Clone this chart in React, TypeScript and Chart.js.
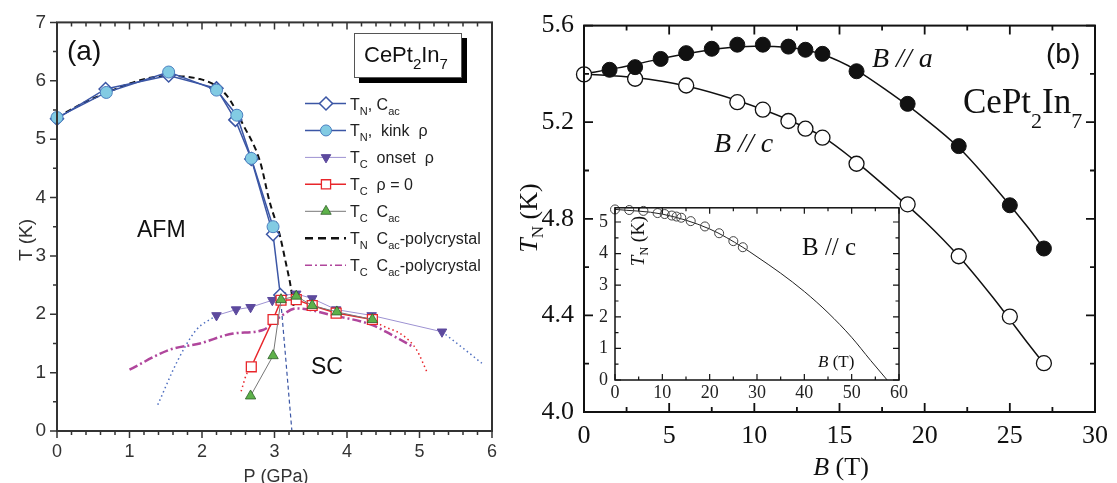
import React, { useEffect, useRef } from 'react';
import { Chart, registerables } from 'chart.js';
Chart.register(...registerables);

const SANS = '"Liberation Sans", Arial, sans-serif';
const SERIF = '"Liberation Serif", "Times New Roman", serif';

// ---------- Panel (a) data: P (GPa) vs T (K) ----------
const tnCacP = [0, 0.67, 1.54, 2.2, 2.46, 2.68, 2.98, 3.08];
const tnCacT = [5.35, 5.86, 6.09, 5.87, 5.33, 4.66, 3.37, 2.33];
const tnKinkP = [0, 0.68, 1.54, 2.2, 2.48, 2.68, 2.98];
const tnKinkT = [5.37, 5.8, 6.15, 5.84, 5.41, 4.67, 3.5];
const tnExtP = [3.08, 3.24];
const tnExtT = [2.33, 0];
const tcOnsetP = [2.2, 2.47, 2.67, 2.97, 3.09, 3.3, 3.52, 3.85, 4.34, 5.31];
const tcOnsetT = [1.98, 2.08, 2.12, 2.24, 2.32, 2.35, 2.27, 2.08, 1.98, 1.7];
const tcOnsetLowP = [1.39, 1.67, 1.92, 2.2];
const tcOnsetLowT = [0.45, 1.22, 1.73, 1.98];
const tcOnsetHighP = [5.31, 5.6, 5.86];
const tcOnsetHighT = [1.7, 1.42, 1.16];
const tcZeroP = [2.68, 2.98, 3.09, 3.3, 3.52, 3.85, 4.35];
const tcZeroT = [1.1, 1.91, 2.24, 2.25, 2.15, 2.02, 1.91];
const tcZeroLowP = [2.54, 2.61, 2.68];
const tcZeroLowT = [0.68, 0.96, 1.1];
const tcZeroHighP = [4.35, 4.48, 4.77, 4.96, 5.1];
const tcZeroHighT = [1.91, 1.81, 1.64, 1.39, 1.02];
const tcCacP = [2.67, 2.98, 3.09, 3.3, 3.52, 3.86, 4.35];
const tcCacT = [0.6, 1.29, 2.25, 2.31, 2.15, 2.04, 1.91];
const polyTnP = [0, 0.54, 1.5, 1.97, 2.34, 2.57, 2.8, 2.93, 3.07, 3.16, 3.22, 3.27];
const polyTnT = [5.38, 5.72, 6.08, 6.03, 5.75, 5.24, 4.62, 3.94, 3.37, 2.86, 2.5, 2.08];
const polyTcP = [1.0, 1.55, 1.97, 2.43, 2.84, 3.07, 3.3, 3.81, 4.36, 4.61, 4.9];
const polyTcT = [1.05, 1.39, 1.5, 1.67, 1.73, 1.95, 2.1, 1.98, 1.81, 1.65, 1.45];

// ---------- Panel (b) data: B (T) vs T_N (K) ----------
const bA = [1.5, 3, 4.5, 6, 7.5, 9, 10.5, 12, 13, 14, 16, 19, 22, 25, 27];
const tA = [5.417, 5.428, 5.462, 5.486, 5.504, 5.521, 5.521, 5.513, 5.5, 5.483, 5.411, 5.276, 5.101, 4.856, 4.677];
const bC = [0, 3, 6, 9, 10.5, 12, 13, 14, 16, 19, 22, 25, 27];
const tC = [5.398, 5.38, 5.352, 5.283, 5.252, 5.205, 5.173, 5.136, 5.028, 4.86, 4.645, 4.395, 4.202];
const fitAB = [0, 2, 4, 6, 8, 10, 12, 14, 16, 18, 20, 22, 24, 26, 27];
const fitAT = [5.4, 5.425, 5.455, 5.483, 5.505, 5.515, 5.51, 5.48, 5.415, 5.32, 5.215, 5.095, 4.94, 4.77, 4.677];
const fitCB = [0, 3, 6, 9, 12, 14, 16, 18, 20, 22, 24, 26, 27];
const fitCT = [5.4, 5.385, 5.35, 5.29, 5.21, 5.14, 5.035, 4.915, 4.79, 4.645, 4.475, 4.29, 4.2];
// inset fit extension
const insetFitB = [0, 10, 20, 27, 30, 35, 40, 45, 50, 54, 57.5];
const insetFitT = [5.4, 5.25, 4.78, 4.2, 3.9, 3.38, 2.8, 2.13, 1.35, 0.62, 0];

// tick labels / ranges
const aXTicks = [0, 1, 2, 3, 4, 5, 6];
const aYTicks = [0, 1, 2, 3, 4, 5, 6, 7];
const bXTicks = [0, 5, 10, 15, 20, 25, 30];
const bYTicks = [4.0, 4.4, 4.8, 5.2, 5.6];
const iXTicks = [0, 10, 20, 30, 40, 50, 60];
const iYTicks = [0, 1, 2, 3, 4, 5];

const xy = (xs: number[], ys: number[]) => xs.map((x, i) => ({ x, y: ys[i] }));
const range = (a: number, b: number, s: number) => {
  const r: number[] = [];
  for (let v = a; v <= b + 1e-9; v += s) r.push(Math.round(v * 1000) / 1000);
  return r;
};

type Seg = { t: string; font: string; dy?: number };
function segWidth(ctx: CanvasRenderingContext2D, segs: Seg[]) {
  let w = 0;
  for (const s of segs) { ctx.font = s.font; w += ctx.measureText(s.t).width; }
  return w;
}
function drawSegs(ctx: CanvasRenderingContext2D, segs: Seg[], x: number, y: number, align = 'left', color = '#222') {
  let cx = align === 'center' ? x - segWidth(ctx, segs) / 2 : x;
  ctx.fillStyle = color;
  ctx.textBaseline = 'alphabetic';
  ctx.textAlign = 'left';
  for (const s of segs) {
    ctx.font = s.font;
    ctx.fillText(s.t, cx, y + (s.dy || 0));
    cx += ctx.measureText(s.t).width;
  }
}
function drawRotSegs(ctx: CanvasRenderingContext2D, segs: Seg[], baseX: number, centerY: number, color = '#222') {
  ctx.save();
  ctx.translate(baseX, centerY);
  ctx.rotate(-Math.PI / 2);
  drawSegs(ctx, segs, 0, 0, 'center', color);
  ctx.restore();
}

type TickSide = { side: 'top' | 'bottom' | 'left' | 'right'; major: number[]; minor: number[]; dir: 'in' | 'out'; majLen: number; minLen: number };
function drawTicks(chart: any, sides: TickSide[], color: string, width: number) {
  const { ctx, chartArea: a, scales } = chart;
  ctx.save();
  ctx.strokeStyle = color;
  ctx.lineWidth = width;
  ctx.beginPath();
  for (const s of sides) {
    const horiz = s.side === 'top' || s.side === 'bottom';
    const sc = horiz ? scales.x : scales.y;
    const list: [number, number][] = [...s.minor.map((v) => [v, s.minLen] as [number, number]), ...s.major.map((v) => [v, s.majLen] as [number, number])];
    for (const [v, len] of list) {
      const p = sc.getPixelForValue(v);
      if (s.side === 'bottom') { const g = s.dir === 'in' ? -1 : 1; ctx.moveTo(p, a.bottom); ctx.lineTo(p, a.bottom + g * len); }
      if (s.side === 'top') { const g = s.dir === 'in' ? 1 : -1; ctx.moveTo(p, a.top); ctx.lineTo(p, a.top + g * len); }
      if (s.side === 'left') { const g = s.dir === 'in' ? 1 : -1; ctx.moveTo(a.left, p); ctx.lineTo(a.left + g * len, p); }
      if (s.side === 'right') { const g = s.dir === 'in' ? -1 : 1; ctx.moveTo(a.right, p); ctx.lineTo(a.right + g * len, p); }
    }
  }
  ctx.stroke();
  ctx.restore();
}

function drawMarker(ctx: CanvasRenderingContext2D, style: string, x: number, y: number, r: number, fill: string, stroke: string, lw: number) {
  ctx.save();
  ctx.beginPath();
  if (style === 'diamond') { ctx.moveTo(x, y - r); ctx.lineTo(x + r, y); ctx.lineTo(x, y + r); ctx.lineTo(x - r, y); ctx.closePath(); }
  else if (style === 'circle') { ctx.arc(x, y, r, 0, Math.PI * 2); }
  else if (style === 'square') { ctx.rect(x - r * 0.707, y - r * 0.707, r * 1.414, r * 1.414); }
  else if (style === 'tri') { ctx.moveTo(x, y - r); ctx.lineTo(x + r * 0.866, y + r / 2); ctx.lineTo(x - r * 0.866, y + r / 2); ctx.closePath(); }
  else if (style === 'triDown') { ctx.moveTo(x, y + r); ctx.lineTo(x + r * 0.866, y - r / 2); ctx.lineTo(x - r * 0.866, y - r / 2); ctx.closePath(); }
  ctx.fillStyle = fill; ctx.fill();
  ctx.strokeStyle = stroke; ctx.lineWidth = lw; ctx.stroke();
  ctx.restore();
}

const BLUE = '#3b56a5';
const LIGHTBLUE = '#82cbe3';
const PURPLE = '#5d4a9e';
const LAVENDER = '#9d92d2';
const RED = '#e8262b';
const GREEN = '#5db14a';
const GREEN_EDGE = '#2f5f2a';
const GRAY = '#777777';
const MAGENTA = '#b0469c';
const DOTBLUE = '#4f6fc0';

const pluginA = {
  id: 'decorA',
  afterDatasetsDraw(chart: any) {
    const ctx: CanvasRenderingContext2D = chart.ctx;
    const a = chart.chartArea;
    ctx.save();
    ctx.strokeStyle = '#333';
    ctx.lineWidth = 2;
    ctx.strokeRect(a.left, a.top, a.right - a.left, a.bottom - a.top);
    ctx.restore();
    drawTicks(chart, [
      { side: 'bottom', major: aXTicks, minor: range(0, 6, 0.2), dir: 'out', majLen: 7, minLen: 4 },
      { side: 'top', major: aXTicks, minor: range(0, 6, 0.2), dir: 'in', majLen: 7, minLen: 4 },
      { side: 'left', major: aYTicks, minor: range(0, 7, 0.5), dir: 'out', majLen: 7, minLen: 4 },
    ], '#333', 1.5);

    // panel label
    drawSegs(ctx, [{ t: '(a)', font: `28px ${SANS}` }], 67, 60, 'left', '#111');
    // compound box with shadow
    ctx.save();
    ctx.fillStyle = '#000';
    ctx.fillRect(359, 38, 108, 45);
    ctx.fillStyle = '#fff';
    ctx.fillRect(354, 33, 108, 45);
    ctx.strokeStyle = '#555';
    ctx.lineWidth = 1;
    ctx.strokeRect(354.5, 33.5, 107, 44);
    ctx.restore();
    drawSegs(ctx, [
      { t: 'CePt', font: `22px ${SANS}` },
      { t: '2', font: `15px ${SANS}`, dy: 7 },
      { t: 'In', font: `22px ${SANS}` },
      { t: '7', font: `15px ${SANS}`, dy: 7 },
    ], 364, 62, 'left', '#111');
    drawSegs(ctx, [{ t: 'AFM', font: `23px ${SANS}` }], 137, 237, 'left', '#111');
    drawSegs(ctx, [{ t: 'SC', font: `23px ${SANS}` }], 311, 374, 'left', '#111');
    // axis titles
    drawRotSegs(ctx, [{ t: 'T (K)', font: `19px ${SANS}` }], 32, 240, '#333');
    drawSegs(ctx, [{ t: 'P (GPa)', font: `18px ${SANS}` }], 276, 482, 'center', '#333');

    // legend
    const F = `16px ${SANS}`;
    const S = `11px ${SANS}`;
    function line(y: number, color: string, w: number, dash: number[]) {
      ctx.save();
      ctx.strokeStyle = color; ctx.lineWidth = w; ctx.setLineDash(dash);
      ctx.beginPath(); ctx.moveTo(305, y); ctx.lineTo(346, y); ctx.stroke();
      ctx.restore();
    }
    const rows: { segs: Seg[]; draw: (y: number) => void }[] = [
      {
        segs: [{ t: 'T', font: F }, { t: 'N', font: S, dy: 5 }, { t: ', C', font: F }, { t: 'ac', font: S, dy: 5 }],
        draw: (y) => { line(y, BLUE, 1.5, []); drawMarker(ctx, 'diamond', 326, y, 6.5, '#fff', BLUE, 1.5); },
      },
      {
        segs: [{ t: 'T', font: F }, { t: 'N', font: S, dy: 5 }, { t: ',  kink  ρ', font: F }],
        draw: (y) => { line(y, BLUE, 1.5, []); drawMarker(ctx, 'circle', 326, y, 5.5, LIGHTBLUE, '#4a7fc0', 1); },
      },
      {
        segs: [{ t: 'T', font: F }, { t: 'C', font: S, dy: 5 }, { t: '  onset  ρ', font: F }],
        draw: (y) => { line(y, LAVENDER, 1, []); drawMarker(ctx, 'triDown', 326, y, 5.5, PURPLE, PURPLE, 1); },
      },
      {
        segs: [{ t: 'T', font: F }, { t: 'C', font: S, dy: 5 }, { t: '  ρ = 0', font: F }],
        draw: (y) => { line(y, RED, 1.5, []); drawMarker(ctx, 'square', 326, y, 6.5, '#fff', RED, 1.3); },
      },
      {
        segs: [{ t: 'T', font: F }, { t: 'C', font: S, dy: 5 }, { t: '  C', font: F }, { t: 'ac', font: S, dy: 5 }],
        draw: (y) => { line(y, GRAY, 1, []); drawMarker(ctx, 'tri', 326, y, 6, GREEN, GREEN_EDGE, 0.8); },
      },
      {
        segs: [{ t: 'T', font: F }, { t: 'N', font: S, dy: 5 }, { t: '  C', font: F }, { t: 'ac', font: S, dy: 5 }, { t: '-polycrystal', font: F }],
        draw: (y) => { line(y, '#111', 2.5, [8, 5]); },
      },
      {
        segs: [{ t: 'T', font: F }, { t: 'C', font: S, dy: 5 }, { t: '  C', font: F }, { t: 'ac', font: S, dy: 5 }, { t: '-polycrystal', font: F }],
        draw: (y) => { line(y, MAGENTA, 1.5, [7, 3, 2, 3]); },
      },
    ];
    rows.forEach((r, i) => {
      const y = 103.5 + i * 26.95;
      r.draw(y);
      drawSegs(ctx, r.segs, 350, y + 6, 'left', '#222');
    });
  },
};

const pluginB = {
  id: 'decorB',
  afterDatasetsDraw(chart: any) {
    const ctx: CanvasRenderingContext2D = chart.ctx;
    const a = chart.chartArea;
    ctx.save();
    ctx.strokeStyle = '#111';
    ctx.lineWidth = 2;
    ctx.strokeRect(a.left, a.top, a.right - a.left, a.bottom - a.top);
    ctx.restore();
    const xmin = range(0, 30, 2.5);
    const ymin = range(4.0, 5.6, 0.2);
    drawTicks(chart, [
      { side: 'bottom', major: bXTicks, minor: xmin, dir: 'in', majLen: 9, minLen: 5 },
      { side: 'top', major: bXTicks, minor: xmin, dir: 'in', majLen: 9, minLen: 5 },
      { side: 'left', major: bYTicks, minor: ymin, dir: 'in', majLen: 9, minLen: 5 },
      { side: 'right', major: bYTicks, minor: ymin, dir: 'in', majLen: 9, minLen: 5 },
    ], '#111', 1.8);
    drawSegs(ctx, [{ t: '(b)', font: `28px ${SANS}` }], 526, 63, 'left', '#111');
    drawSegs(ctx, [{ t: 'B // a', font: `italic 28px ${SERIF}` }], 352, 67, 'left', '#111');
    drawSegs(ctx, [{ t: 'B // c', font: `italic 28px ${SERIF}` }], 194, 152, 'left', '#111');
    drawSegs(ctx, [
      { t: 'CePt', font: `35px ${SERIF}` },
      { t: '2', font: `22px ${SERIF}`, dy: 15 },
      { t: 'In', font: `35px ${SERIF}` },
      { t: '7', font: `22px ${SERIF}`, dy: 15 },
    ], 443, 113, 'left', '#111');
    drawSegs(ctx, [{ t: 'B', font: `italic 26px ${SERIF}` }, { t: ' (T)', font: `26px ${SERIF}` }], 321, 475, 'center', '#111');
    drawRotSegs(ctx, [
      { t: 'T', font: `italic 26px ${SERIF}` },
      { t: 'N', font: `17px ${SERIF}`, dy: 6 },
      { t: ' (K)', font: `26px ${SERIF}` },
    ], 17, 218, '#111');
  },
};

const pluginI = {
  id: 'decorI',
  beforeDatasetsDraw(chart: any) {
    const ctx: CanvasRenderingContext2D = chart.ctx;
    const a = chart.chartArea;
    ctx.save();
    ctx.fillStyle = '#fff';
    ctx.fillRect(a.left, a.top, a.right - a.left, a.bottom - a.top);
    ctx.restore();
  },
  afterDatasetsDraw(chart: any) {
    const ctx: CanvasRenderingContext2D = chart.ctx;
    const a = chart.chartArea;
    ctx.save();
    ctx.strokeStyle = '#111';
    ctx.lineWidth = 1.5;
    ctx.strokeRect(a.left, a.top, a.right - a.left, a.bottom - a.top);
    ctx.restore();
    const xmin = range(0, 60, 5);
    const ymin = range(0, 5, 0.5);
    drawTicks(chart, [
      { side: 'bottom', major: iXTicks, minor: xmin, dir: 'in', majLen: 6, minLen: 3.5 },
      { side: 'top', major: iXTicks, minor: xmin, dir: 'in', majLen: 6, minLen: 3.5 },
      { side: 'left', major: iYTicks, minor: ymin, dir: 'in', majLen: 6, minLen: 3.5 },
      { side: 'right', major: iYTicks, minor: ymin, dir: 'in', majLen: 6, minLen: 3.5 },
    ], '#111', 1.2);
    drawSegs(ctx, [{ t: 'B // c', font: `25px ${SERIF}` }], 222, 65, 'left', '#111');
    drawSegs(ctx, [{ t: 'B', font: `italic 17px ${SERIF}` }, { t: ' (T)', font: `17px ${SERIF}` }], 238, 177, 'left', '#111');
    drawRotSegs(ctx, [
      { t: 'T', font: `italic 19px ${SERIF}` },
      { t: 'N', font: `12px ${SERIF}`, dy: 4 },
      { t: ' (K)', font: `19px ${SERIF}` },
    ], 64, 51, '#111');
  },
};

function lineDs(data: any[], color: string, width: number, dash: number[], order: number, extra: any = {}) {
  return { data, borderColor: color, borderWidth: width, borderDash: dash, pointRadius: 0, fill: false, clip: false, order, ...extra };
}

function cfgA(): any {
  const datasets = [
    { data: xy(tcCacP, tcCacT), borderColor: GRAY, borderWidth: 1, pointStyle: 'triangle', pointRadius: 6, pointBackgroundColor: GREEN, pointBorderColor: GREEN_EDGE, pointBorderWidth: 0.8, fill: false, clip: false, order: 1 },
    { data: xy(tcZeroP, tcZeroT), borderColor: RED, borderWidth: 1.5, pointStyle: 'rect', pointRadius: 7, pointBackgroundColor: '#fff', pointBorderColor: RED, pointBorderWidth: 1.3, fill: false, clip: false, order: 2 },
    { data: xy(tnKinkP, tnKinkT), borderColor: BLUE, borderWidth: 1.5, pointStyle: 'circle', pointRadius: 6, pointBackgroundColor: LIGHTBLUE, pointBorderColor: '#4a7fc0', pointBorderWidth: 1, fill: false, clip: false, order: 3 },
    { data: xy(tnCacP, tnCacT), borderColor: BLUE, borderWidth: 1.5, pointStyle: 'rectRot', pointRadius: 6.5, pointBackgroundColor: '#fff', pointBorderColor: BLUE, pointBorderWidth: 1.5, fill: false, clip: false, order: 4 },
    { data: xy(tcOnsetP, tcOnsetT), borderColor: LAVENDER, borderWidth: 1, pointStyle: 'triangle', rotation: 180, pointRadius: 5.5, pointBackgroundColor: PURPLE, pointBorderColor: PURPLE, pointBorderWidth: 1, fill: false, clip: false, order: 5 },
    lineDs(xy(polyTnP, polyTnT), '#111', 2, [6, 4], 6, { cubicInterpolationMode: 'monotone' }),
    lineDs(xy(polyTcP, polyTcT), MAGENTA, 2.5, [9, 3, 2, 3], 7, { cubicInterpolationMode: 'monotone' }),
    lineDs(xy(tnExtP, tnExtT), BLUE, 1.2, [4, 3], 8),
    lineDs(xy(tcOnsetLowP, tcOnsetLowT), DOTBLUE, 1.5, [1.5, 3], 9, { cubicInterpolationMode: 'monotone' }),
    lineDs(xy(tcOnsetHighP, tcOnsetHighT), DOTBLUE, 1.5, [1.5, 3], 10, { cubicInterpolationMode: 'monotone' }),
    lineDs(xy(tcZeroLowP, tcZeroLowT), RED, 1.5, [1.5, 3], 11, { cubicInterpolationMode: 'monotone' }),
    lineDs(xy(tcZeroHighP, tcZeroHighT), RED, 1.5, [1.5, 3], 12, { cubicInterpolationMode: 'monotone' }),
  ];
  return {
    type: 'line',
    data: { datasets },
    options: {
      animation: false,
      responsive: false,
      events: [],
      layout: { padding: { left: 0, top: 20, right: 28, bottom: 0 } },
      plugins: { legend: { display: false }, tooltip: { enabled: false } },
      scales: {
        x: {
          type: 'linear', min: 0, max: 6,
          afterBuildTicks: (s: any) => { s.ticks = aXTicks.map((v) => ({ value: v })); },
          ticks: { font: { family: SANS, size: 18 }, color: '#333', padding: 10, autoSkip: false, maxRotation: 0 },
          grid: { display: false, drawTicks: false }, border: { display: false },
          afterFit: (s: any) => { s.height = 52; },
        },
        y: {
          type: 'linear', min: 0, max: 7,
          afterBuildTicks: (s: any) => { s.ticks = aYTicks.map((v) => ({ value: v })); },
          ticks: { font: { family: SANS, size: 19 }, color: '#333', padding: 11 },
          grid: { display: false, drawTicks: false }, border: { display: false },
          afterFit: (s: any) => { s.width = 57; },
        },
      },
    },
    plugins: [pluginA],
  };
}

function cfgB(): any {
  const datasets = [
    { data: xy(bA, tA), showLine: false, pointStyle: 'circle', pointRadius: 7.5, pointBackgroundColor: '#111', pointBorderColor: '#111', pointBorderWidth: 1, clip: false, order: 1 },
    { data: xy(bC, tC), showLine: false, pointStyle: 'circle', pointRadius: 7.5, pointBackgroundColor: '#fff', pointBorderColor: '#111', pointBorderWidth: 1.3, clip: false, order: 2 },
    lineDs(xy(fitAB, fitAT), '#111', 1.5, [], 3, { cubicInterpolationMode: 'monotone' }),
    lineDs(xy(fitCB, fitCT), '#111', 1.5, [], 4, { cubicInterpolationMode: 'monotone' }),
  ];
  return {
    type: 'line',
    data: { datasets },
    options: {
      animation: false,
      responsive: false,
      events: [],
      layout: { padding: { left: 0, top: 25, right: 19, bottom: 0 } },
      plugins: { legend: { display: false }, tooltip: { enabled: false } },
      scales: {
        x: {
          type: 'linear', min: 0, max: 30,
          afterBuildTicks: (s: any) => { s.ticks = bXTicks.map((v) => ({ value: v })); },
          ticks: { font: { family: SERIF, size: 26 }, color: '#111', padding: 9, autoSkip: false, maxRotation: 0 },
          grid: { display: false, drawTicks: false }, border: { display: false },
          afterFit: (s: any) => { s.height = 71; },
        },
        y: {
          type: 'linear', min: 4.0, max: 5.6,
          afterBuildTicks: (s: any) => { s.ticks = bYTicks.map((v) => ({ value: v })); },
          ticks: { font: { family: SERIF, size: 26 }, color: '#111', padding: 10, callback: (v: any) => Number(v).toFixed(1) },
          grid: { display: false, drawTicks: false }, border: { display: false },
          afterFit: (s: any) => { s.width = 64; },
        },
      },
    },
    plugins: [pluginB],
  };
}

function cfgI(): any {
  const datasets = [
    { data: xy(bC, tC), showLine: false, pointStyle: 'circle', pointRadius: 4.5, pointBackgroundColor: 'rgba(255,255,255,0)', pointBorderColor: '#444', pointBorderWidth: 1, clip: false, order: 1 },
    lineDs(xy(insetFitB, insetFitT), '#222', 1, [], 2, { cubicInterpolationMode: 'monotone' }),
  ];
  return {
    type: 'line',
    data: { datasets },
    options: {
      animation: false,
      responsive: false,
      events: [],
      layout: { padding: { left: 0, top: 14, right: 11, bottom: 0 } },
      plugins: { legend: { display: false }, tooltip: { enabled: false } },
      scales: {
        x: {
          type: 'linear', min: 0, max: 60,
          afterBuildTicks: (s: any) => { s.ticks = iXTicks.map((v) => ({ value: v })); },
          ticks: { font: { family: SERIF, size: 18 }, color: '#222', padding: 2, autoSkip: false, maxRotation: 0 },
          grid: { display: false, drawTicks: false }, border: { display: false },
          afterFit: (s: any) => { s.height = 30; },
        },
        y: {
          type: 'linear', min: 0, max: 5.45,
          afterBuildTicks: (s: any) => { s.ticks = iYTicks.map((v) => ({ value: v })); },
          ticks: { font: { family: SERIF, size: 18 }, color: '#222', padding: 7 },
          grid: { display: false, drawTicks: false }, border: { display: false },
          afterFit: (s: any) => { s.width = 35; },
        },
      },
    },
    plugins: [pluginI],
  };
}

export default function App() {
  const refA = useRef<HTMLCanvasElement>(null);
  const refB = useRef<HTMLCanvasElement>(null);
  const refI = useRef<HTMLCanvasElement>(null);
  useEffect(() => {
    const cA = new Chart(refA.current as HTMLCanvasElement, cfgA());
    const cB = new Chart(refB.current as HTMLCanvasElement, cfgB());
    const cI = new Chart(refI.current as HTMLCanvasElement, cfgI());
    return () => { cA.destroy(); cB.destroy(); cI.destroy(); };
  }, []);
  return (
    <div style={{ position: 'fixed', left: 0, top: 0, width: 1117, height: 483, background: '#fff', overflow: 'hidden' }}>
      <canvas ref={refA} width={520} height={483} style={{ position: 'absolute', left: 0, top: 0 }} />
      <canvas ref={refB} width={597} height={483} style={{ position: 'absolute', left: 520, top: 0 }} />
      <canvas ref={refI} width={330} height={220} style={{ position: 'absolute', left: 580, top: 190 }} />
    </div>
  );
}
